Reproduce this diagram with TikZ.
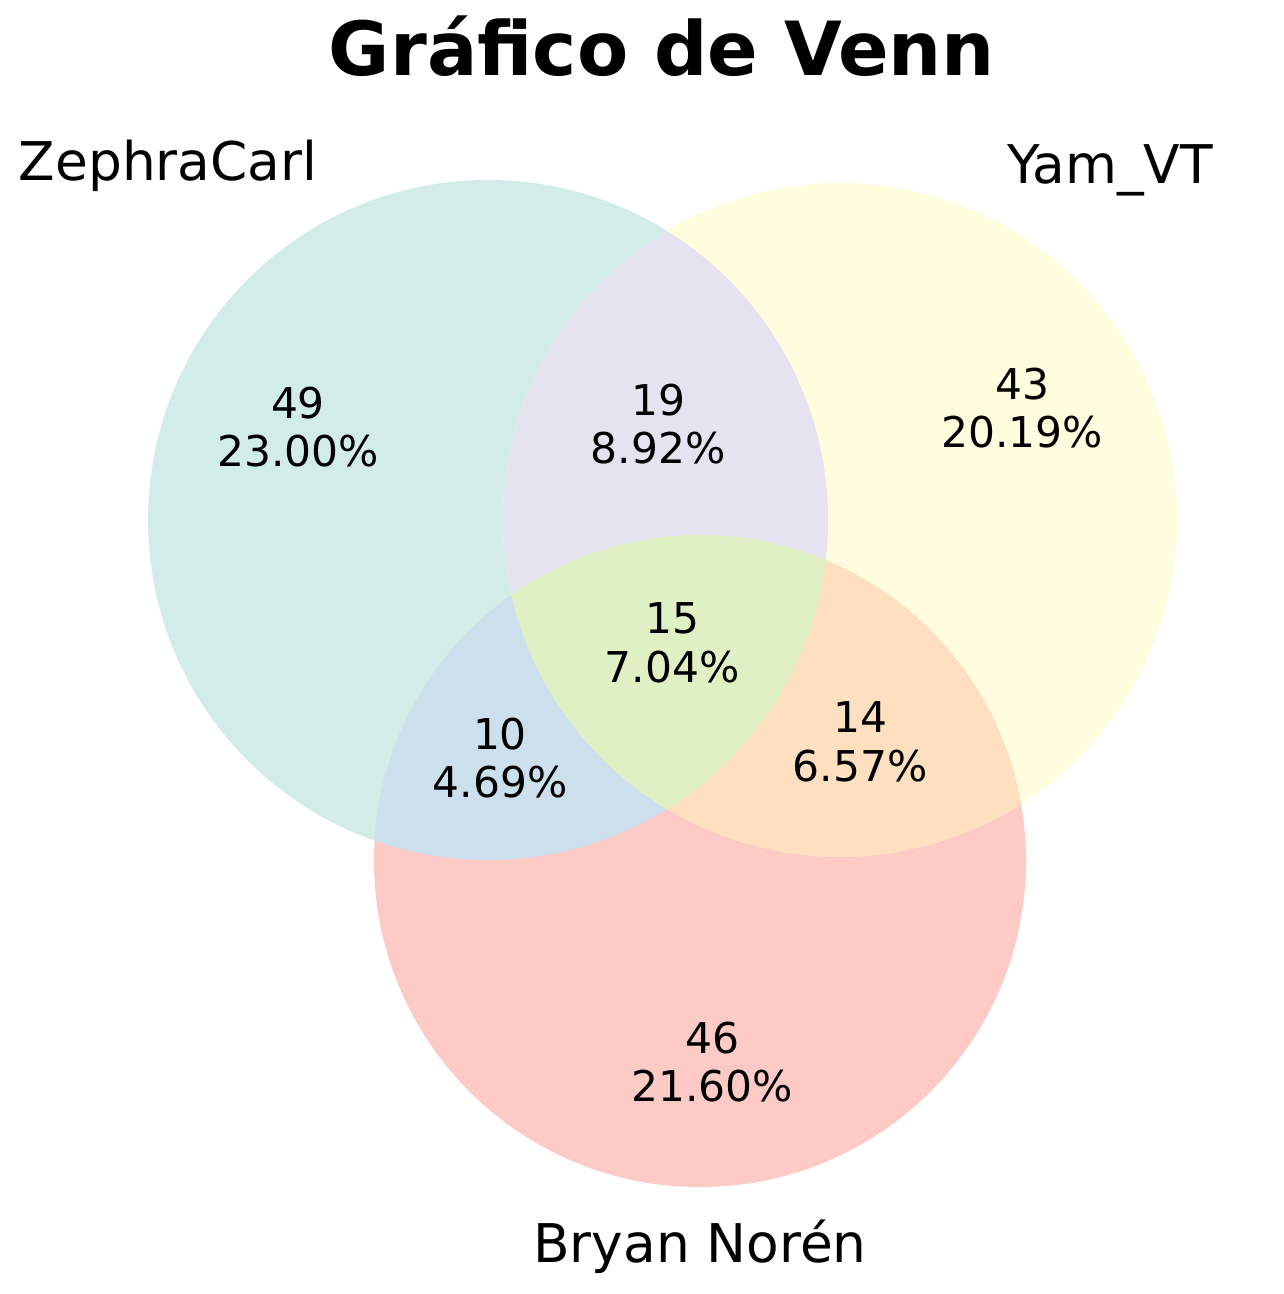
\documentclass[tikz,border=0pt]{standalone}
\usepackage{fontspec}
\setmainfont{DejaVu Sans}
\definecolor{zephra}{RGB}{210,237,232}
\definecolor{yam}{RGB}{255,253,222}
\definecolor{bryan}{RGB}{253,202,198}
\definecolor{zephrayam}{RGB}{229,227,240}
\definecolor{zephrabryan}{RGB}{203,223,236}
\definecolor{yambryan}{RGB}{254,224,192}
\definecolor{allthree}{RGB}{224,240,197}
\begin{document}
\begin{tikzpicture}[x=0.75pt,y=0.75pt,yscale=-1,xscale=1,
	count/.style={inner sep=0pt,align=center,font=\fontsize{31.8}{36.4}\selectfont},
	setname/.style={inner sep=0pt,anchor=base,font=\fontsize{40}{48}\selectfont}]
	\useasboundingbox (0,0) rectangle (1283,1294);
	
	%Shape: Circle ZephraCarl
	\fill [zephra] (488,520) circle (340);
	%Shape: Circle Yam_VT
	\fill [yam] (840,520) circle (337);
	%Shape: Circle Bryan
	\fill [bryan] (700,861) circle (326);
	
	%Overlap: ZephraCarl and Yam_VT
	\begin{scope}
		\clip (488,520) circle (340);
		\fill [zephrayam] (840,520) circle (337);
	\end{scope}
	%Overlap: ZephraCarl and Bryan
	\begin{scope}
		\clip (488,520) circle (340);
		\fill [zephrabryan] (700,861) circle (326);
	\end{scope}
	%Overlap: Yam_VT and Bryan
	\begin{scope}
		\clip (840,520) circle (337);
		\fill [yambryan] (700,861) circle (326);
	\end{scope}
	%Overlap: all three
	\begin{scope}
		\clip (488,520) circle (340);
		\clip (840,520) circle (337);
		\fill [allthree] (700,861) circle (326);
	\end{scope}
	
	% Title
	\node (title) [inner sep=0pt,anchor=base,font=\fontsize{56}{67}\selectfont\bfseries] at (662,76) {Gráfico de Venn};
	
	% Set names
	\node (zephraname) [setname] at (168,181) {ZephraCarl};
	\node (yamname) [setname] at (1110,184) {Yam\_VT};
	\node (bryanname) [setname] at (700,1262) {Bryan Norén};
	
	% Counts
	\node (zonly) [count] at (298,427) {49\\23.00\%};
	\node (zy) [count] at (658,424) {19\\8.92\%};
	\node (yonly) [count] at (1022,408) {43\\20.19\%};
	\node (zyb) [count] at (672,643) {15\\7.04\%};
	\node (zb) [count] at (500,758) {10\\4.69\%};
	\node (yb) [count] at (860,742) {14\\6.57\%};
	\node (bonly) [count] at (712,1062) {46\\21.60\%};
	
\end{tikzpicture}
\end{document}
